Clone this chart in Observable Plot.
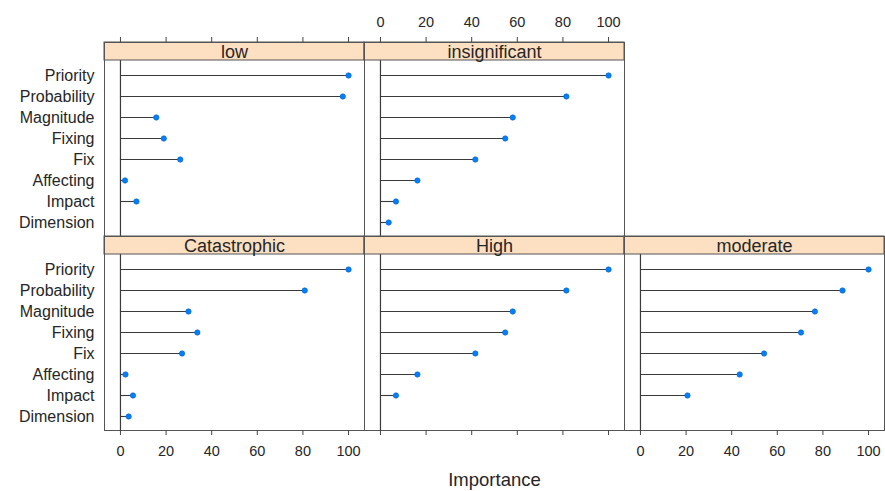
<!DOCTYPE html>
<html>
<head>
<meta charset="utf-8">
<script src="https://cdn.jsdelivr.net/npm/d3@7"></script>
<script src="https://cdn.jsdelivr.net/npm/@observablehq/plot@0.6"></script>
<style>
  html, body { margin: 0; padding: 0; background: #fff; }
  #chart { width: 885px; height: 491px; }
  svg { font-family: "Liberation Sans", Arial, sans-serif; }
</style>
</head>
<body>
<div id="chart"></div>
<script>
// Panel (factor) levels in lattice order: filled bottom-left to right, then upward
const panels = ["Catastrophic", "High", "moderate", "low", "insignificant"];
// Variables, top to bottom
const categories = ["Priority", "Probability", "Magnitude", "Fixing", "Fix", "Affecting", "Impact", "Dimension"];
// Importance values per panel (null = not shown)
const catastrophicValues = [100, 80.8, 29.8, 33.7, 27.0, 2.2, 5.5, 3.6];
const highValues = [100, 81.5, 58.0, 54.7, 41.6, 16.2, 6.8, null];
const moderateValues = [100, 88.6, 76.5, 70.4, 54.2, 43.5, 20.6, null];
const lowValues = [100, 97.5, 15.7, 19.0, 26.2, 2.0, 7.0, null];
const insignificantValues = [100, 81.5, 58.0, 54.7, 41.6, 16.2, 6.8, 3.6];
// Axis ticks
const xTicks = [0, 20, 40, 60, 80, 100];
const xLabel = "Importance";

const valuesByPanel = [catastrophicValues, highValues, moderateValues, lowValues, insignificantValues];
const nCols = 3;
const panelInfo = panels.map((name, i) => ({
  name,
  col: i % nCols,
  row: 1 - Math.floor(i / nCols)
}));
const data = panelInfo.flatMap((p, i) =>
  categories.map((c, j) => ({...p, cat: c, value: valuesByPanel[i][j]}))
).filter(d => d.value != null);

// Top ticks on top-row panels; labels where lattice alternates (middle column top, outer columns bottom)
const topPanels = panelInfo.filter(p => p.row === 0);
const topTicks = topPanels.flatMap(p => xTicks.map(v => ({...p, v})));
const topLabels = topPanels.filter(p => p.col === 1).flatMap(p => xTicks.map(v => ({...p, v})));
const bottomLabels = panelInfo.filter(p => p.row === 1 && p.col !== 1).flatMap(p => xTicks.map(v => ({...p, v})));
const labelPanel = panelInfo.filter(p => p.row === 1 && p.col === 1);

const ink = "#262626";
const lineCol = "#3a3a3a";
const frameCol = "#555";
const panelH = 194, stripH = 18, tickLen = 5;

const chart = Plot.plot({
  width: 885,
  height: 491,
  marginLeft: 103,
  marginRight: 0,
  marginTop: 42,
  marginBottom: 61,
  style: {fontFamily: "'Liberation Sans', Arial, sans-serif", background: "#fff"},
  fx: {domain: [0, 1, 2], padding: 0, axis: null},
  fy: {domain: [0, 1], padding: 0, axis: null},
  x: {domain: [-7, 107], axis: null},
  y: {type: "point", domain: categories, insetTop: stripH, padding: 0.63, axis: null},
  marks: [
    Plot.ruleX(panelInfo, {x: () => 0, fx: "col", fy: "row", stroke: lineCol, strokeWidth: 1.2}),
    Plot.ruleY(data, {y: "cat", x1: 0, x2: "value", fx: "col", fy: "row", stroke: lineCol, strokeWidth: 1.1}),
    Plot.dot(data, {x: "value", y: "cat", fx: "col", fy: "row", r: 2.7, fill: "#0080ff", stroke: "#1060c0", strokeWidth: 0.6}),
    // strips
    Plot.rect(panelInfo, {fx: "col", fy: "row", insetBottom: panelH - stripH, fill: "#fddfc2", stroke: frameCol, strokeWidth: 1}),
    Plot.text(panelInfo, {text: "name", fx: "col", fy: "row", frameAnchor: "top", lineAnchor: "middle", dy: 9.5, fontSize: 18, fill: ink}),
    Plot.frame({stroke: frameCol, strokeWidth: 1}),
    // y axis (left column only)
    Plot.axisY({anchor: "left", facetAnchor: "left", tickSize: 0, tickPadding: 10, fontSize: 16, color: ink, label: null}),
    // x ticks
    Plot.tickX(topTicks, {x: "v", fx: "col", fy: "row", insetBottom: panelH - tickLen, dy: -tickLen, stroke: "#444", strokeWidth: 1}),
    Plot.axisX({anchor: "bottom", facetAnchor: "bottom", ticks: xTicks, tickSize: tickLen, tickFormat: () => "", label: null, stroke: "#444"}),
    Plot.text(topLabels, {x: "v", text: d => String(d.v), fx: "col", fy: "row", frameAnchor: "top", lineAnchor: "middle", dy: -20.5, fontSize: 14.5, fill: ink}),
    Plot.text(bottomLabels, {x: "v", text: d => String(d.v), fx: "col", fy: "row", frameAnchor: "bottom", lineAnchor: "middle", dy: 21, fontSize: 14.5, fill: ink}),
    Plot.text(labelPanel, {text: () => xLabel, fx: "col", fy: "row", frameAnchor: "bottom", lineAnchor: "middle", dy: 50, fontSize: 18.5, fill: ink})
  ]
});
document.getElementById("chart").appendChild(chart);
</script>
</body>
</html>
